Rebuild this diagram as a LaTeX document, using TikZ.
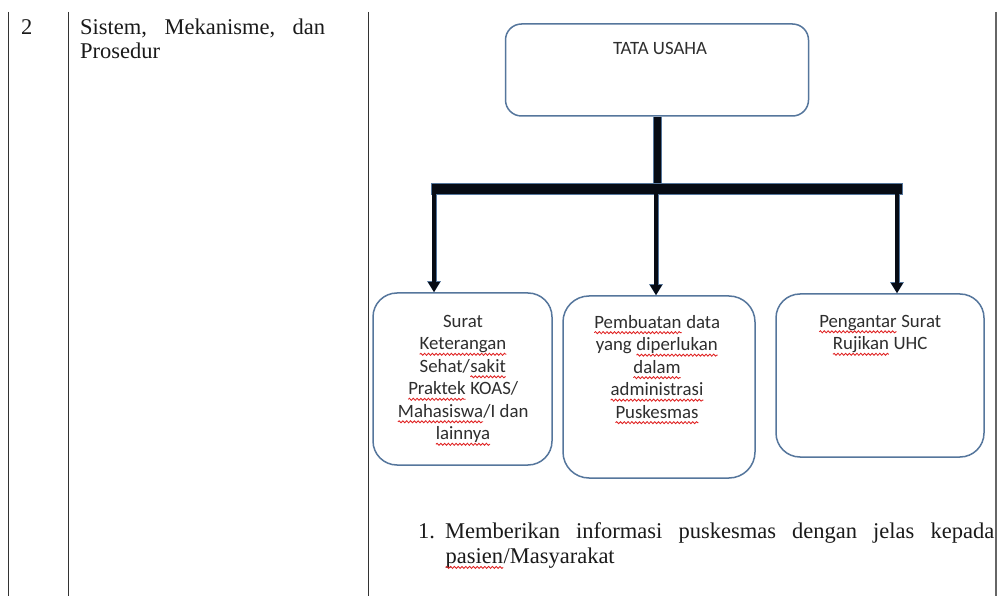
\documentclass[tikz,border=0pt]{standalone}
\usepackage{fontspec}
\setmainfont{Liberation Serif}
\newfontfamily\calib{Carlito}
\usetikzlibrary{arrows.meta,decorations.pathmorphing}
\definecolor{boxblue}{HTML}{55769C}
\definecolor{navy}{HTML}{070B14}
\definecolor{txtgray}{HTML}{2E2E2E}
\definecolor{serifblack}{HTML}{1A1A1A}
\definecolor{squig}{HTML}{E02020}
\newcommand\sqw[1]{\tikz[baseline=(sqn.base)]{\node[inner sep=0pt,outer sep=0pt](sqn){#1};\draw[squig,line width=0.85pt,decorate,decoration={snake,amplitude=1pt,segment length=3.8pt}]([yshift=-4.4pt]sqn.base west)--([yshift=-4.4pt]sqn.base east);}}
\begin{document}
\begin{tikzpicture}[x=1pt,y=-1pt,
  tableline/.style={draw=black!80,line width=1.4pt},
  ubox/.style={draw=boxblue,line width=1.5pt,fill=white,inner sep=0pt},
  btxt/.style={font=\calib\fontsize{18.8}{22.5}\selectfont,align=center,text=txtgray,inner sep=0pt},
  serif/.style={font=\fontsize{22.5}{25}\selectfont,text=serifblack,inner sep=0pt,anchor=base west},
  stem/.style={draw=navy,line width=7pt,preaction={draw=boxblue,line width=9pt}},
  hbar/.style={fill=navy,draw=boxblue,line width=0.8pt,inner sep=0pt},
  arr/.style={draw=navy,line width=3.2pt,-{Triangle[width=11pt,length=10pt]},
     preaction={draw=boxblue,line width=5pt,-{Triangle[width=13pt,length=11pt]}}}
]
\useasboundingbox (0,0) rectangle (997,596);
\fill[white] (0,0) rectangle (997,596);

% table rules
\coordinate (r1t) at (8.5,12);  \coordinate (r1b) at (8.5,596);
\coordinate (r2t) at (68.5,12); \coordinate (r2b) at (68.5,596);
\coordinate (r3t) at (368.5,12);\coordinate (r3b) at (368.5,596);
\coordinate (r4t) at (996,12);  \coordinate (r4b) at (996,596);
\draw[tableline] (r1t) -- (r1b);
\draw[tableline] (r2t) -- (r2b);
\draw[tableline] (r3t) -- (r3b);
\draw[tableline,draw=black!60] (r4t) -- (r4b);

% left column texts
\node[serif] (num) at (21,35) {2};
\node[serif] (st1) at (80,35) {\makebox[245pt][s]{Sistem, Mekanisme, dan}};
\node[serif] (st2) at (80,59) {Prosedur};

% top box
\node[ubox,minimum width=303,minimum height=92,rounded corners=16pt] (tu) at (657,70) {};
\node[btxt,anchor=north] (tut) at (660,42) {TATA USAHA};

% bar
\node[hbar,minimum width=471,minimum height=11] (bar) at (666.5,188.5) {};
\draw[stem] (tu.south) -- (tu.south |- bar.north);

% lower boxes
\node[ubox,minimum width=179,minimum height=172,rounded corners=24pt] (b1) at (462.5,379) {};
\node[ubox,minimum width=192,minimum height=182,rounded corners=26pt] (b2) at (659,387) {};
\node[ubox,minimum width=208,minimum height=163,rounded corners=24pt] (b3) at (880,375.5) {};

% arrows
\coordinate (a1) at (434,194);
\coordinate (a2) at (656,194);
\coordinate (a3) at (897,194);
\draw[arr] (a1) -- (a1 |- b1.north);
\draw[arr] (a2) -- (a2 |- b2.north);
\draw[arr] (a3) -- (a3 |- b3.north);

% box texts
\node[btxt,anchor=north] (t1) at (463,315) {Surat\\ \sqw{Keterangan}\\ Sehat/\sqw{sakit}\\ \sqw{Praktek} KOAS/\\ \sqw{Mahasiswa}/I dan\\ \sqw{lainnya}};
\node[btxt,anchor=north] (t2) at (657,315) {\sqw{Pembuatan} data\\ yang \sqw{diperlukan}\\ \sqw{dalam}\\ \sqw{administrasi}\\ \sqw{Puskesmas}};
\node[btxt,anchor=north] (t3) at (880,315) {\sqw{Pengantar} Surat\\ \sqw{Rujikan} UHC};

% bottom list
\node[serif] (li) at (418,538) {1.};
\node[serif] (l1) at (445,538) {\makebox[549pt][s]{Memberikan informasi puskesmas dengan jelas kepada}};
\node[serif] (l2) at (445,563) {\sqw{pasien}/Masyarakat};
\end{tikzpicture}
\end{document}
